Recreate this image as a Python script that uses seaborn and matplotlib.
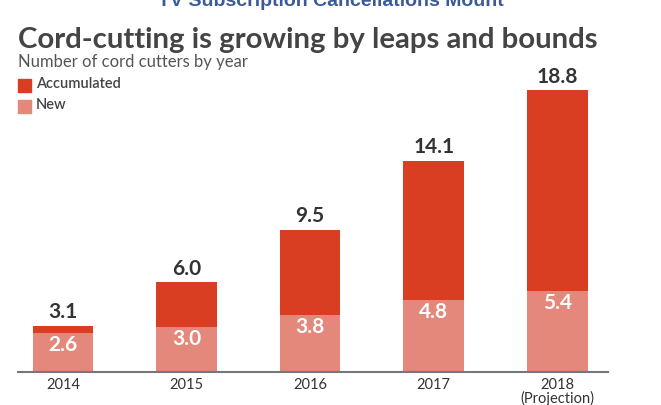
#!/usr/bin/env python3
# coding: utf-8

import matplotlib
matplotlib.use("Agg")
import seaborn as sns
from matplotlib import pyplot as plt
from matplotlib.patches import Rectangle
import pandas as pd

years = ["2014", "2015", "2016", "2017", "2018"]
tick_labels = ["2014", "2015", "2016", "2017", "2018\n(Projection)"]
accumulated = [3.1, 6.0, 9.5, 14.1, 18.8]
new = [2.6, 3.0, 3.8, 4.8, 5.4]

ACC_COLOR = "#d93d22"
NEW_COLOR = "#e3887a"
DARK = "#444444"

sns.set_style("white")
plt.rcParams['font.family'] = ['Lato', 'DejaVu Sans']

df = pd.DataFrame({"year": years, "accumulated": accumulated, "new": new})

fig = plt.figure(figsize=[6.61, 4.05], dpi=100)
ax = fig.add_axes([0.027, 0.0815, 0.893, 0.74])

sns.barplot(data=df, x="year", y="accumulated", color=ACC_COLOR, width=0.49,
            saturation=1, linewidth=0, ax=ax)
sns.barplot(data=df, x="year", y="new", color=NEW_COLOR, width=0.49,
            saturation=1, linewidth=0, ax=ax)

ax.set_xlim(-0.364, 4.41)
ax.set_ylim(0, 20)
sns.despine(ax=ax, left=True, top=True, right=True)
ax.spines['bottom'].set_color("#777777")
ax.spines['bottom'].set_linewidth(1.5)
ax.set_yticks([])
ax.set_xlabel("")
ax.set_ylabel("")
ax.set_xticks(range(len(years)))
ax.set_xticklabels(tick_labels, fontsize=10.5, color="#333333", linespacing=0.95)
ax.tick_params(axis='x', length=0, pad=4)

# value labels
for i, (a, n) in enumerate(zip(accumulated, new)):
    ax.annotate("%.1f" % a, (i, a), xytext=(0, 2.5), textcoords="offset points",
                ha="center", va="bottom", fontsize=15, fontweight="bold",
                color="#333333")
    ax.annotate("%.1f" % n, (i, n), xytext=(0, -1.5), textcoords="offset points",
                ha="center", va="top", fontsize=15, fontweight="bold",
                color="white")

# titles
fig.text(0.5, 1 - 2 / 405, "TV Subscription Cancellations Mount", ha="center",
         va="center", fontsize=14, fontweight="bold", color="#3b5a9c",
         family=["Liberation Sans", "DejaVu Sans"])
fig.text(0.027, 1 - 48 / 405, "Cord-cutting is growing by leaps and bounds",
         ha="left", va="baseline", fontsize=21.2, fontweight="bold", color=DARK)
fig.text(0.027, 1 - 67.5 / 405, "Number of cord cutters by year", ha="left",
         va="baseline", fontsize=12, color="#555555")

# legend
for k, (lab, col) in enumerate([("Accumulated", ACC_COLOR), ("New", NEW_COLOR)]):
    yy = 1 - (92 + 21 * k) / 405
    fig.patches.append(Rectangle((18 / 661, yy), 13 / 661, 13 / 405,
                                 transform=fig.transFigure, color=col))
    fig.text(36 / 661, yy + 1 / 405, lab, ha="left", va="bottom",
             fontsize=10.5, fontweight="semibold", color=DARK)

plt.savefig("out.png", dpi=100)
